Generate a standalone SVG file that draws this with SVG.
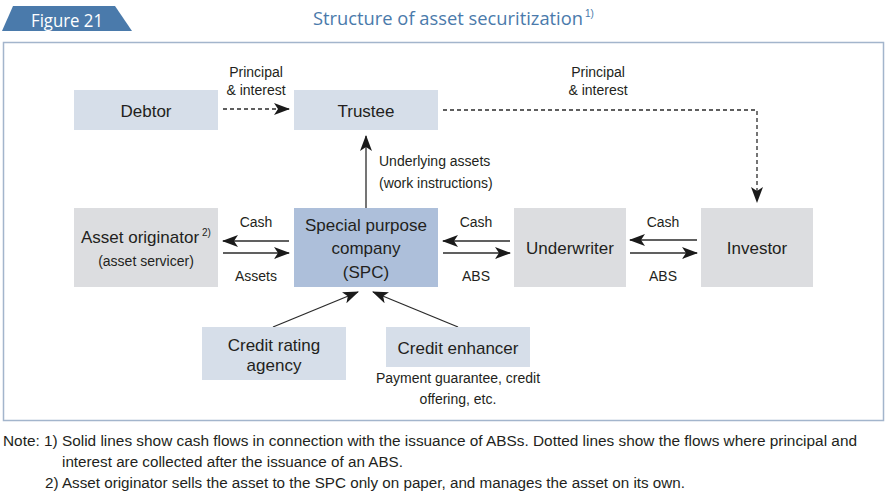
<svg xmlns="http://www.w3.org/2000/svg" width="892" height="498" viewBox="0 0 892 498">
<style>
.t{font-family:"Liberation Sans",Arial,sans-serif;fill:#231f20;}
.n{font-size:17px;text-anchor:middle;}
.l{font-size:14px;}
.c{text-anchor:middle;}
.blue{fill:#d6dee9;}
.grey{fill:#dcdde0;}
.spc{fill:#adbfda;}
.sol{stroke:#2b2b2b;stroke-width:1.3;fill:none;marker-end:url(#ah);}
.dash{stroke:#2b2b2b;stroke-width:1.3;fill:none;stroke-dasharray:4 3;}
.note{font-family:"Liberation Sans",Arial,sans-serif;font-size:15.5px;fill:#231f20;}
</style>
<defs>
<marker id="ah" markerUnits="userSpaceOnUse" markerWidth="16" markerHeight="12" viewBox="0 0 16 12" refX="15" refY="6" orient="auto">
<path d="M0,0 L16,6 L0,12 L4,6 Z" fill="#1a1a1a"/>
</marker>
</defs>
<rect width="892" height="498" fill="#ffffff"/>
<polygon points="2,31 13,6 115,6 132,31" fill="#4a7aab"/>
<text x="67" y="27" font-family="'Open Sans','Liberation Sans',sans-serif" font-size="18" fill="#ffffff" text-anchor="middle" textLength="72" lengthAdjust="spacingAndGlyphs">Figure 21</text>
<text x="448" y="25" font-family="'Open Sans','Liberation Sans',sans-serif" font-size="18" fill="#4a7aab" text-anchor="middle" textLength="270" lengthAdjust="spacingAndGlyphs">Structure of asset securitization</text>
<text x="585" y="17" font-family="'Liberation Sans',sans-serif" font-size="10" fill="#4a7aab">1)</text>
<rect x="3.5" y="42.5" width="880" height="378" fill="none" stroke="#a3b5cc" stroke-width="1.5"/>
<g id="connectors">
<line class="dash" x1="223" y1="109" x2="289" y2="109" marker-end="url(#ah)"/>
<polyline class="dash" points="443,110 757,110 757,202" marker-end="url(#ah)"/>
<line class="sol" x1="366" y1="208" x2="366" y2="136"/>
<line class="sol" x1="289" y1="241" x2="223" y2="241"/>
<line class="sol" x1="223" y1="253" x2="289" y2="253"/>
<line class="sol" x1="510" y1="241" x2="443" y2="241"/>
<line class="sol" x1="443" y1="253" x2="510" y2="253"/>
<line class="sol" x1="697" y1="240" x2="630" y2="240"/>
<line class="sol" x1="630" y1="253" x2="697" y2="253"/>
<line class="sol" x1="273" y1="327" x2="358" y2="292"/>
<line class="sol" x1="458" y1="327" x2="373" y2="292"/>
<g class="t l">
<text class="c" x="256" y="77">Principal</text>
<text class="c" x="256" y="95">&amp; interest</text>
<text class="c" x="598" y="77">Principal</text>
<text class="c" x="598" y="95">&amp; interest</text>
<text x="379" y="166">Underlying assets</text>
<text x="379" y="188">(work instructions)</text>
<text class="c" x="256" y="227">Cash</text>
<text class="c" x="256" y="281">Assets</text>
<text class="c" x="476" y="227">Cash</text>
<text class="c" x="476" y="281">ABS</text>
<text class="c" x="663" y="227">Cash</text>
<text class="c" x="663" y="281">ABS</text>
</g>
</g>
<g id="debtor">
<rect class="blue" x="74" y="90" width="144" height="40"/>
<text class="t n" x="146" y="117">Debtor</text>
</g>
<g id="trustee">
<rect class="blue" x="294" y="90" width="144" height="40"/>
<text class="t n" x="366" y="117">Trustee</text>
</g>
<g id="originator">
<rect class="grey" x="74" y="208" width="144" height="79"/>
<text class="t n" x="140" y="243">Asset originator</text>
<text class="t" x="202" y="236" font-size="10">2)</text>
<text class="t l c" x="146" y="266">(asset servicer)</text>
</g>
<g id="spc">
<rect class="spc" x="294" y="208" width="144" height="79"/>
<text class="t n" x="366" y="231">Special purpose</text>
<text class="t n" x="366" y="254">company</text>
<text class="t n" x="366" y="278">(SPC)</text>
</g>
<g id="underwriter">
<rect class="grey" x="514" y="208" width="112" height="79"/>
<text class="t n" x="570" y="254">Underwriter</text>
</g>
<g id="investor">
<rect class="grey" x="701" y="208" width="112" height="79"/>
<text class="t n" x="757" y="254">Investor</text>
</g>
<g id="rating">
<rect class="blue" x="202" y="327" width="144" height="53"/>
<text class="t n" x="274" y="351">Credit rating</text>
<text class="t n" x="274" y="371">agency</text>
</g>
<g id="enhancer">
<rect class="blue" x="386" y="327" width="144" height="40"/>
<text class="t n" x="458" y="354">Credit enhancer</text>
<text class="t l c" x="458" y="383">Payment guarantee, credit</text>
<text class="t l c" x="458" y="404">offering, etc.</text>
</g>
<g id="notes">
<text class="note" x="3" y="446" textLength="854" lengthAdjust="spacingAndGlyphs">Note: 1) Solid lines show cash flows in connection with the issuance of ABSs. Dotted lines show the flows where principal and</text>
<text class="note" x="62" y="467" textLength="341" lengthAdjust="spacingAndGlyphs">interest are collected after the issuance of an ABS.</text>
<text class="note" x="45" y="488" textLength="640" lengthAdjust="spacingAndGlyphs">2) Asset originator sells the asset to the SPC only on paper, and manages the asset on its own.</text>
</g>
</svg>
